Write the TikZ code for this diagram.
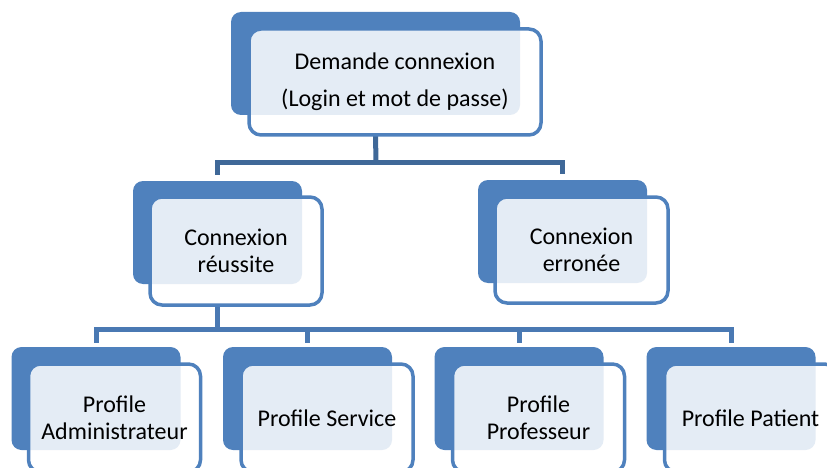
\documentclass[tikz,border=0pt]{standalone}
\usepackage{fontspec}
\setmainfont{Carlito}
\usetikzlibrary{calc}
\definecolor{boxblue}{HTML}{4F81BD}
\definecolor{linkdark}{HTML}{3F6898}
\definecolor{linkblue}{HTML}{4A79B3}
\begin{document}
\begin{tikzpicture}[x=1pt,y=-1pt,
  backbox/.style={draw=none, fill=boxblue, rounded corners=10pt,
    minimum width=169pt, minimum height=103pt, inner sep=0pt},
  frontbox/.style={draw=boxblue, line width=3.5pt, fill=white,
    fill opacity=0.85, text opacity=1, rounded corners=12pt,
    minimum width=172pt, minimum height=108pt, align=center,
    inner sep=0pt, font=\fontsize{24}{27}\selectfont},
  link/.style={line width=5pt, draw=linkblue}]
\useasboundingbox (0,0) rectangle (827,468);
\clip (0,0) rectangle (827,468);

% back plates
\node[backbox, minimum width=289pt] (topb) at (375.5,63.5) {};
\node[backbox] (l2ab) at (217.5,232.5) {};
\node[backbox] (l2bb) at (562.5,231.5) {};
\node[backbox] (p1b) at (96,398.5) {};
\node[backbox] (p2b) at (307.5,398.5) {};
\node[backbox] (p3b) at (519,398.5) {};
\node[backbox] (p4b) at (731,398.5) {};

% connectors
\coordinate (bus1) at (376,162);
\coordinate (bus2) at (217.5,329);
\draw[link, draw=linkdark] (topb |- 0,135) -- (bus1);
\draw[link, draw=linkdark] ([yshift=6pt]l2ab.north) |- (bus1) -| ([yshift=6pt]l2bb.north);
\draw[link] (l2ab |- 0,305) -- (bus2);
\draw[link] ([yshift=4pt]p1b.north) |- (bus2) -| ([yshift=4pt]p4b.north);
\draw[link] (bus2 -| p2b) -- ([yshift=4pt]p2b.north);
\draw[link] (bus2 -| p3b) -- ([yshift=4pt]p3b.north);

% front cards with text
\node[frontbox, minimum width=292pt, minimum height=106pt] (topf) at (395,82)
  {Demande connexion\\[10pt](Login et mot de passe)};
\node[frontbox] (l2af) at (236,251) {Connexion\\réussite};
\node[frontbox, minimum width=173pt, minimum height=106pt] (l2bf) at (581.5,250) {Connexion\\erronée};
\node[frontbox] (p1f) at (114.5,418) {Profile\\Administrateur};
\node[frontbox] (p2f) at (327,418) {Profile Service};
\node[frontbox] (p3f) at (538.5,418) {Profile\\Professeur};
\node[frontbox] (p4f) at (750.5,418) {Profile Patient};
\end{tikzpicture}
\end{document}
